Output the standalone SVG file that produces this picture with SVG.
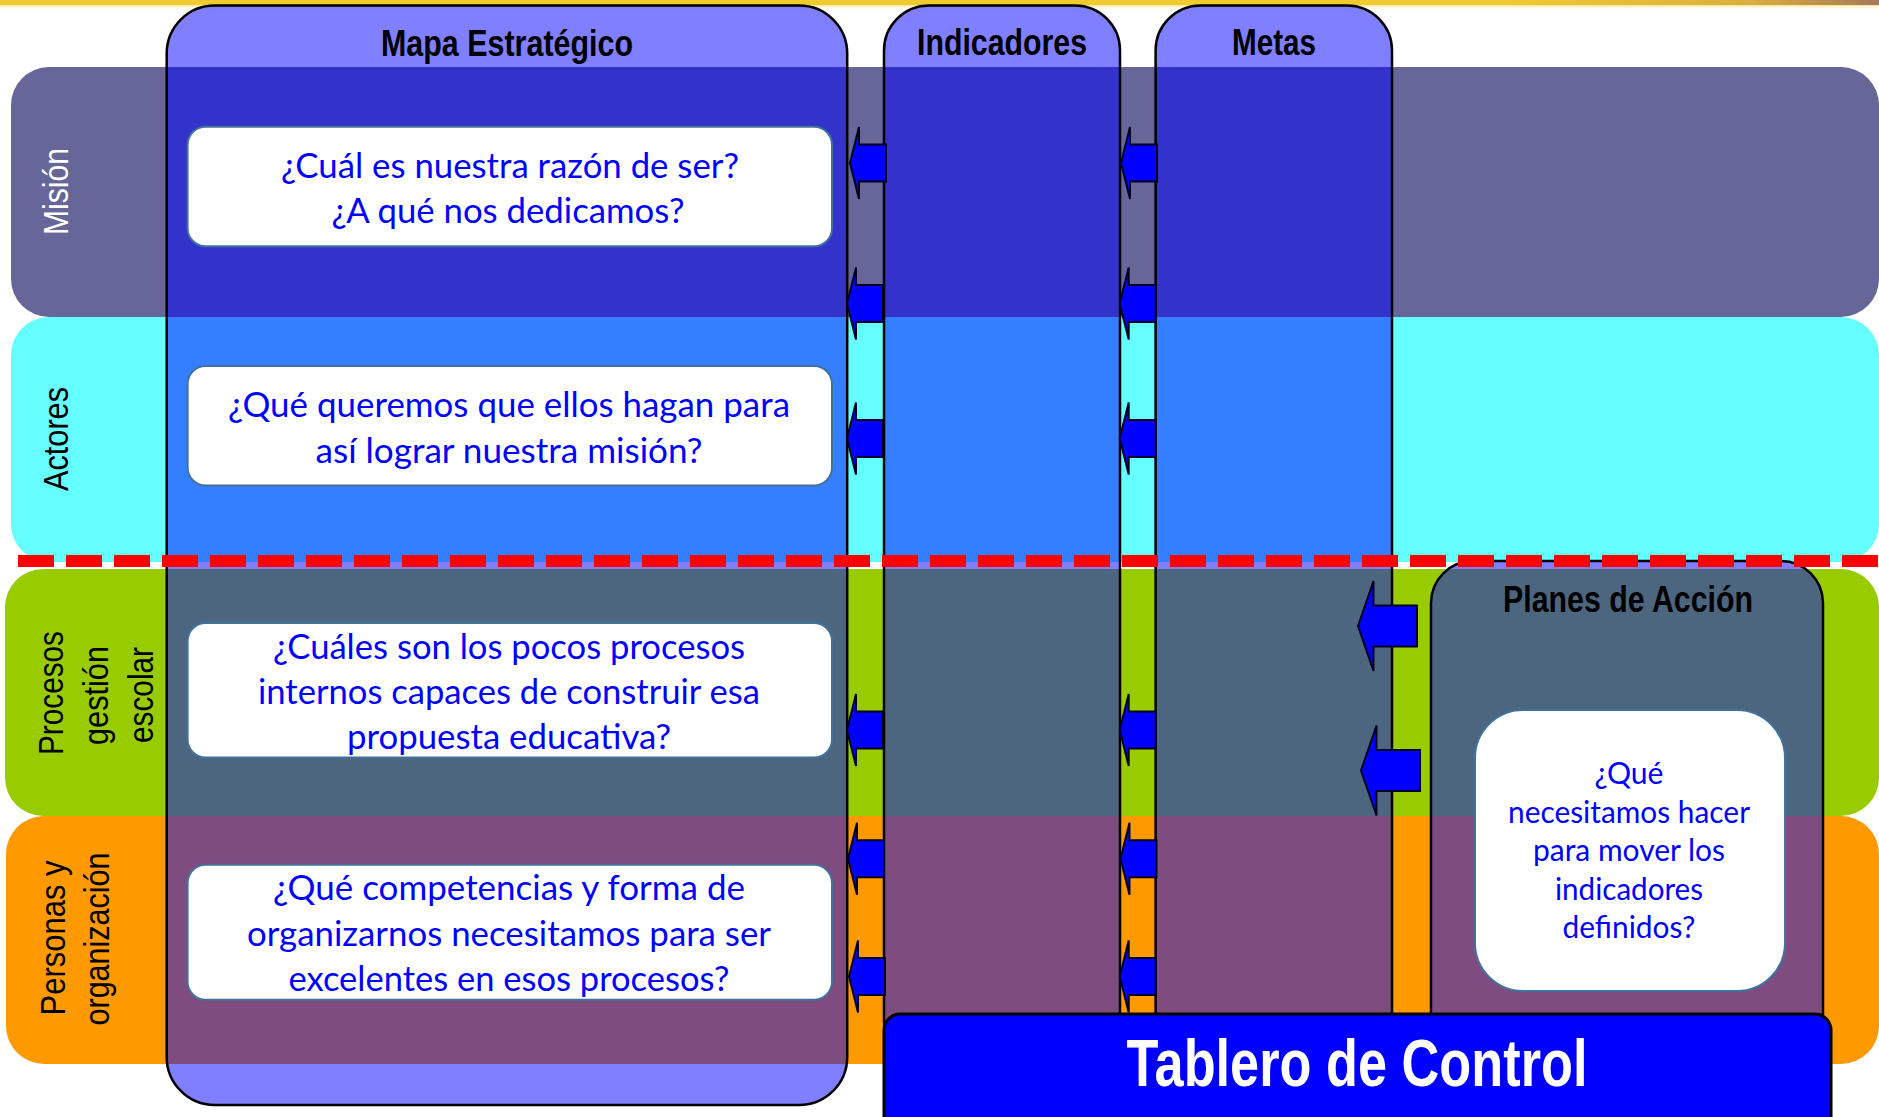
<svg xmlns="http://www.w3.org/2000/svg" xmlns:xlink="http://www.w3.org/1999/xlink" width="1879" height="1117" viewBox="0 0 1879 1117">
<style>
.band{stroke:none}
.col{fill:#0000FF;fill-opacity:0.5;stroke:#000;stroke-width:2.5}
.box{fill:#fff;stroke:#41719C;stroke-width:2}
.arr{fill:#0000FF;stroke:#000022;stroke-width:2;stroke-linejoin:miter}
.hdr{font-family:"Liberation Sans Narrow","Liberation Sans",Arial,sans-serif;font-weight:bold;font-size:37px;fill:#000;text-anchor:middle}
.q{font-family:Lato,"Open Sans","Noto Sans",sans-serif;font-size:35px;fill:#0000FF;text-anchor:middle}
.q2{font-family:Lato,"Open Sans","Noto Sans",sans-serif;font-size:30px;fill:#0000FF;text-anchor:middle}
.lbl{font-family:"Liberation Sans",Arial,sans-serif;font-size:35px;text-anchor:middle}
</style>
<defs>
<linearGradient id="topbar" x1="0" y1="0" x2="1" y2="0">
<stop offset="0" stop-color="#EFCB2E"/>
<stop offset="0.8" stop-color="#EFCB2E"/>
<stop offset="0.93" stop-color="#D8B040"/>
<stop offset="1" stop-color="#A8785A"/>
</linearGradient>
<linearGradient id="topfade" x1="0" y1="0" x2="0" y2="1">
<stop offset="0" stop-color="#F3DC70" stop-opacity="0.8"/>
<stop offset="1" stop-color="#ffffff" stop-opacity="0"/>
</linearGradient>
<path id="sa" d="M0,0 L9,-36 L9,-18.5 L36,-18.5 L36,18.5 L9,18.5 L9,36 Z"/>
<path id="la" d="M0,0 L15.5,-45 L15.5,-20.5 L59,-20.5 L59,20.5 L15.5,20.5 L15.5,45 Z"/>
</defs>

<rect x="0" y="0" width="1879" height="1117" fill="#ffffff"/>
<rect x="0" y="0" width="1879" height="5" fill="url(#topbar)"/>
<rect x="0" y="5" width="1879" height="5" fill="url(#topfade)"/>

<g id="bands">
<rect id="band-mision" class="band" x="11" y="67" width="1868" height="250" rx="38" fill="#666699"/>
<rect id="band-actores" class="band" x="11" y="317" width="1868" height="245" rx="38" fill="#66FFFF"/>
<rect id="band-procesos" class="band" x="5" y="569" width="1874" height="247" rx="38" fill="#99CC00"/>
<rect id="band-personas" class="band" x="6" y="816" width="1873" height="248" rx="38" fill="#FF9900"/>
</g>

<g id="columns">
<rect id="col-mapa" class="col" x="166.7" y="5.5" width="680.5" height="1099.5" rx="48"/>
<rect id="col-indicadores" class="col" x="884" y="5.5" width="236" height="1060" rx="45"/>
<rect id="col-metas" class="col" x="1155.6" y="5.5" width="236.4" height="1060" rx="45"/>
<rect id="col-planes" class="col" x="1431" y="561" width="392" height="500" rx="42"/>
</g>

<g id="boxes">
<g id="node-mision">
<rect class="box" x="187.6" y="126.7" width="644.4" height="119.6" rx="18"/>
<text class="q" x="510" y="178" textLength="458" lengthAdjust="spacingAndGlyphs">¿Cuál es nuestra razón de ser?</text>
<text class="q" x="508" y="223" textLength="353" lengthAdjust="spacingAndGlyphs">¿A qué nos dedicamos?</text>
</g>
<g id="node-actores">
<rect class="box" x="187.6" y="366" width="644.4" height="119.6" rx="18"/>
<text class="q" x="509" y="417" textLength="562" lengthAdjust="spacingAndGlyphs">¿Qué queremos que ellos hagan para</text>
<text class="q" x="509" y="462.5" textLength="387" lengthAdjust="spacingAndGlyphs">así lograr nuestra misión?</text>
</g>
<g id="node-procesos">
<rect class="box" x="187.6" y="623" width="644.4" height="134.6" rx="18"/>
<text class="q" x="509" y="659" textLength="472" lengthAdjust="spacingAndGlyphs">¿Cuáles son los pocos procesos</text>
<text class="q" x="509" y="703.5" textLength="502" lengthAdjust="spacingAndGlyphs">internos capaces de construir esa</text>
<text class="q" x="509" y="748.5" textLength="324" lengthAdjust="spacingAndGlyphs">propuesta educativa?</text>
</g>
<g id="node-personas">
<rect class="box" x="187.6" y="864.7" width="644.4" height="135" rx="18"/>
<text class="q" x="509" y="900" textLength="472" lengthAdjust="spacingAndGlyphs">¿Qué competencias y forma de</text>
<text class="q" x="509" y="945.5" textLength="524" lengthAdjust="spacingAndGlyphs">organizarnos necesitamos para ser</text>
<text class="q" x="509" y="990.5" textLength="441" lengthAdjust="spacingAndGlyphs">excelentes en esos procesos?</text>
</g>
<g id="node-planes">
<rect class="box" x="1475" y="710" width="310" height="281" rx="48"/>
<text class="q2" x="1629" y="784" textLength="69" lengthAdjust="spacingAndGlyphs">¿Qué</text>
<text class="q2" x="1629" y="822.5" textLength="242" lengthAdjust="spacingAndGlyphs">necesitamos hacer</text>
<text class="q2" x="1629" y="861" textLength="192" lengthAdjust="spacingAndGlyphs">para mover los</text>
<text class="q2" x="1629" y="899.5" textLength="148" lengthAdjust="spacingAndGlyphs">indicadores</text>
<text class="q2" x="1629" y="938" textLength="133" lengthAdjust="spacingAndGlyphs">definidos?</text>
</g>
</g>

<g id="connectors">
<use href="#sa" class="arr" x="850" y="163"/>
<use href="#sa" class="arr" x="847" y="303.5"/>
<use href="#sa" class="arr" x="847" y="438.4"/>
<use href="#sa" class="arr" x="847" y="730"/>
<use href="#sa" class="arr" x="848" y="858.7"/>
<use href="#sa" class="arr" x="849" y="976.5"/>
<use href="#sa" class="arr" x="1121" y="163"/>
<use href="#sa" class="arr" x="1119.7" y="303.5"/>
<use href="#sa" class="arr" x="1119.7" y="438.4"/>
<use href="#sa" class="arr" x="1119.7" y="730"/>
<use href="#sa" class="arr" x="1120.5" y="858.7"/>
<use href="#sa" class="arr" x="1119.7" y="976.5"/>
<use href="#la" class="arr" x="1358" y="626"/>
<use href="#la" class="arr" x="1361" y="770.5"/>
</g>

<line id="divider" x1="18" y1="561" x2="1879" y2="561" stroke="#FF0000" stroke-width="12" stroke-dasharray="36 12"/>

<g id="tablero">
<rect x="884" y="1014" width="947" height="125" rx="16" fill="#0000FF" stroke="#000" stroke-width="3"/>
<text x="1357" y="1086" font-family="'Liberation Sans Narrow','Liberation Sans',Arial,sans-serif" font-weight="bold" font-size="66" fill="#fff" text-anchor="middle" textLength="461" lengthAdjust="spacingAndGlyphs">Tablero de Control</text>
</g>

<g id="headers">
<text class="hdr" x="507" y="56" textLength="252" lengthAdjust="spacingAndGlyphs">Mapa Estratégico</text>
<text class="hdr" x="1002" y="55" textLength="170" lengthAdjust="spacingAndGlyphs">Indicadores</text>
<text class="hdr" x="1274" y="55" textLength="84" lengthAdjust="spacingAndGlyphs">Metas</text>
<text class="hdr" x="1628" y="612" textLength="250" lengthAdjust="spacingAndGlyphs">Planes de Acción</text>
</g>

<g id="row-labels">
<text class="lbl" fill="#fff" transform="translate(68,191.5) rotate(-90)" textLength="87" lengthAdjust="spacingAndGlyphs">Misión</text>
<text class="lbl" fill="#000" transform="translate(68,439) rotate(-90)" textLength="104" lengthAdjust="spacingAndGlyphs">Actores</text>
<text class="lbl" fill="#000" transform="translate(63,693) rotate(-90)" textLength="124" lengthAdjust="spacingAndGlyphs">Procesos</text>
<text class="lbl" fill="#000" transform="translate(108,695.5) rotate(-90)" textLength="99" lengthAdjust="spacingAndGlyphs">gestión</text>
<text class="lbl" fill="#000" transform="translate(153,695) rotate(-90)" textLength="96" lengthAdjust="spacingAndGlyphs">escolar</text>
<text class="lbl" fill="#000" transform="translate(65,938) rotate(-90)" textLength="155" lengthAdjust="spacingAndGlyphs">Personas y</text>
<text class="lbl" fill="#000" transform="translate(109,939) rotate(-90)" textLength="173" lengthAdjust="spacingAndGlyphs">organización</text>
</g>
</svg>
